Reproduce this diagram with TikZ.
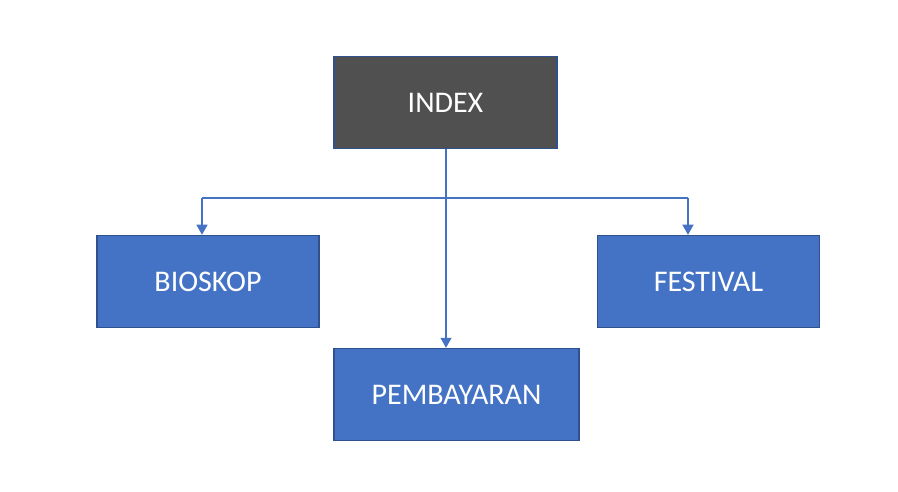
\documentclass[tikz,border=0pt]{standalone}
\usepackage{fontspec}
\setmainfont{Carlito}
\usetikzlibrary{arrows.meta}
\definecolor{boxfill}{HTML}{4472C4}
\definecolor{boxline}{HTML}{2F528F}
\definecolor{darkfill}{HTML}{505050}
\tikzset{
  box/.style={draw=boxline, line width=1.5pt, fill=boxfill, text=white, minimum height=92pt, inner sep=0pt, font=\fontsize{30}{36}\selectfont},
  conn/.style={draw=boxfill, line width=1.2pt, -{Triangle[length=10pt,width=11pt]}},
  connplain/.style={draw=boxfill, line width=1.2pt}
}
\begin{document}
\begin{tikzpicture}[x=1pt,y=-1pt]
\useasboundingbox (0,0) rectangle (898,492);
\node[box, fill=darkfill, minimum width=223pt] (index) at (445.5,102.5) {INDEX};
\node[box, minimum width=222pt] (bioskop) at (208,281.5) {BIOSKOP};
\node[box, minimum width=222pt] (festival) at (708.5,281.5) {FESTIVAL};
\node[box, minimum width=245pt] (pembayaran) at (456.5,394.5) {PEMBAYARAN};
\coordinate (hl) at (202,198);
\coordinate (hr) at (688,198);
\draw[conn] (index.south -| 446,0) -- (pembayaran.north -| 446,0);
\draw[connplain] (hl) -- (hr);
\draw[conn] (hl) -- (bioskop.north -| hl);
\draw[conn] (hr) -- (festival.north -| hr);
\end{tikzpicture}
\end{document}
